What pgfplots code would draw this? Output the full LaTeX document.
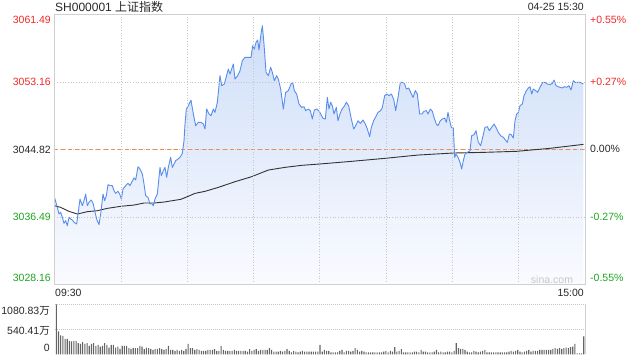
\documentclass[border=0pt]{standalone}
\usepackage{pgfplots}
\usepackage{pgfplotstable}
\pgfplotsset{compat=1.18}
\usepackage{fontspec}
\setmainfont{Liberation Sans}
\newfontfamily\cjk{Noto Sans CJK SC}
\definecolor{upred}{RGB}{240,40,40}
\definecolor{dngreen}{RGB}{30,165,30}
\definecolor{lineblue}{RGB}{88,141,236}
\definecolor{framegray}{RGB}{208,208,208}
\definecolor{gridgray}{RGB}{198,198,198}
\definecolor{refor}{RGB}{236,140,90}
\definecolor{volgray}{RGB}{100,100,100}
\definecolor{filltop}{RGB}{206,222,248}
\definecolor{fillbot}{RGB}{250,251,255}
\definecolor{txt}{RGB}{40,40,40}

\pgfplotstableread{
m p
0 3038.92
1.28 3037.68
2.04 3036.86
2.79 3037.07
3.54 3036.45
4.30 3035.71
5.05 3036.04
5.81 3035.42
6.56 3036.45
7.31 3036.24
8.07 3036.12
8.82 3035.83
10.03 3035.63
10.63 3036.86
11.54 3038.71
12.59 3037.89
13.35 3038.51
14.10 3039.33
14.85 3037.89
15.61 3038.30
16.66 3038.59
17.57 3038.10
18.17 3037.27
19.08 3036.24
20.13 3035.54
20.89 3036.86
21.94 3039.33
22.70 3038.51
23.45 3039.12
24.20 3040.48
25.41 3040.36
26.17 3040.36
26.92 3039.74
27.67 3039.41
28.73 3039.66
29.48 3039.33
30.24 3038.71
30.99 3039.95
32.20 3040.36
33.25 3040.65
34.16 3040.36
34.91 3040.77
35.97 3041.31
36.72 3041.06
37.78 3042.70
38.68 3042.42
39.74 3041.80
40.49 3040.57
41.25 3039.12
42.30 3038.92
43.21 3038.10
43.96 3038.18
44.71 3037.89
45.47 3038.71
46.52 3039.33
47.73 3042.62
48.33 3041.59
49.24 3042.21
49.99 3042.62
50.75 3041.39
51.50 3042.62
52.56 3043.86
53.31 3042.62
54.06 3043.03
54.82 3043.45
55.87 3043.65
56.78 3043.86
57.83 3044.35
58.59 3045.91
59.04 3047.97
59.64 3049.82
60.55 3050.23
61.75 3050.93
62.81 3049.21
63.87 3047.77
65.07 3048.18
66.28 3048.18
67.33 3047.97
68.09 3047.35
68.84 3049.82
69.90 3049.21
70.80 3049.00
71.86 3049.82
72.61 3049.41
73.67 3050.65
74.87 3053.94
75.63 3052.70
76.83 3052.91
77.44 3053.53
78.64 3054.76
79.40 3054.14
80.15 3054.76
80.91 3055.38
81.66 3053.53
82.87 3053.94
83.92 3054.55
84.98 3055.79
86.19 3056.20
87.69 3056.20
88.90 3056.20
89.65 3057.64
90.41 3057.23
91.16 3058.05
91.92 3058.34
92.52 3057.11
93.42 3059.08
94.03 3060.11
94.78 3057.85
95.69 3054.35
96.74 3053.94
97.80 3054.97
98.55 3054.35
99.46 3053.32
100.51 3053.94
101.27 3053.53
102.32 3052.29
103.53 3049.82
104.58 3051.88
105.79 3052.09
106.99 3052.91
107.75 3053.11
108.50 3052.09
109.56 3051.67
110.62 3050.44
111.82 3050.03
112.88 3050.11
113.63 3049.62
114.84 3049.82
115.74 3049.62
116.65 3048.59
117.55 3049.70
118.61 3049.82
119.81 3049.54
120.42 3049.21
121.47 3048.67
122.53 3048.59
123.43 3051.26
124.19 3049.82
124.94 3050.65
125.69 3050.23
126.45 3049.21
127.50 3050.03
128.26 3048.38
129.16 3049.21
130.07 3049.82
130.97 3050.11
132.03 3050.65
133.08 3050.23
134.29 3048.59
135.35 3047.35
136.25 3047.77
137.31 3048.38
138.36 3048.05
139.57 3048.47
140.62 3047.97
141.53 3047.35
142.58 3046.41
143.34 3047.56
144.54 3048.47
145.60 3049.00
146.35 3049.41
147.56 3049.62
148.32 3050.03
149.37 3051.47
150.43 3051.67
151.33 3051.47
152.39 3051.67
153.44 3051.06
154.35 3049.62
155.40 3051.26
156.46 3053.11
157.67 3053.11
158.42 3052.91
159.17 3052.29
160.23 3052.42
161.13 3051.88
162.19 3051.26
163.24 3052.09
164.15 3051.67
165.21 3049.21
166.26 3049.21
167.17 3049.54
168.22 3049.62
168.98 3049.21
170.03 3049.82
170.94 3049.54
171.69 3048.79
172.75 3047.97
173.50 3047.77
174.56 3048.38
175.46 3048.59
176.52 3048.71
177.27 3048.18
178.02 3049.41
178.78 3048.38
179.53 3047.56
180.44 3047.48
181.04 3043.86
181.64 3044.27
182.55 3043.86
183.45 3043.24
184.21 3042.42
184.96 3043.45
185.72 3044.27
186.77 3044.47
187.98 3044.68
188.73 3046.53
189.79 3046.65
190.69 3047.15
191.75 3045.71
192.80 3045.30
193.71 3046.33
194.76 3047.56
195.82 3047.64
196.72 3047.15
197.78 3047.56
198.84 3047.97
199.74 3047.56
200.80 3046.94
201.85 3046.53
203.06 3046.33
204.27 3045.91
204.87 3045.71
205.77 3046.74
206.68 3046.65
207.58 3046.24
208.34 3048.38
209.09 3049.21
209.85 3049.41
210.60 3050.23
211.66 3050.44
212.41 3051.47
213.31 3052.00
214.37 3052.42
215.12 3052.58
215.88 3051.67
216.63 3052.29
217.69 3052.09
218.59 3051.88
219.65 3052.50
220.85 3053.11
221.91 3053.11
222.97 3052.91
224.17 3052.83
225.23 3052.99
225.98 3053.40
226.89 3052.70
227.94 3052.58
228.70 3052.50
229.75 3052.42
230.66 3052.58
231.71 3052.50
232.77 3052.70
233.67 3052.17
234.73 3053.32
235.48 3053.11
236.54 3053.11
237.74 3053.11
239.30 3052.91
}\pricedata

\pgfplotstableread{
m a
0 3037.89
2.79 3037.68
6.56 3037.19
10.33 3036.86
14.85 3037.15
19.38 3037.27
23.90 3037.56
29.93 3037.81
35.97 3037.97
40.49 3038.22
45.02 3038.22
49.54 3038.34
57.08 3038.67
60.10 3039.00
63.56 3039.41
68.09 3039.66
74.12 3040.15
81.66 3040.85
89.20 3041.47
96.74 3042.29
104.28 3042.62
111.82 3042.87
119.81 3043.03
134.29 3043.36
149.37 3043.73
164.45 3044.14
180.29 3044.39
194.01 3044.47
209.09 3044.60
224.17 3044.97
239.30 3045.46
}\avgdata

\pgfplotstableread{
v
1081
497
409
402
336
336
292
278
292
292
241
227
263
227
241
183
227
241
183
205
168
183
241
205
146
205
205
146
168
117
183
183
183
132
117
132
132
132
183
168
110
146
132
117
95
110
110
132
110
95
117
183
95
95
73
95
73
95
73
117
227
132
132
95
110
95
73
73
73
95
95
95
110
73
73
183
95
73
73
73
73
95
73
73
73
73
73
58
110
73
95
110
73
95
95
95
95
132
95
58
58
58
73
58
73
110
73
44
73
58
44
58
73
58
58
58
58
58
58
58
205
58
95
73
73
44
44
44
44
73
95
44
73
73
58
73
132
95
58
73
58
44
44
44
44
44
44
44
44
58
73
44
73
58
154
58
73
110
44
44
44
44
44
58
58
44
95
58
58
44
44
44
58
95
44
58
44
44
58
58
44
73
241
132
117
117
95
58
44
44
73
58
44
58
73
95
44
44
44
44
44
44
44
44
44
44
58
73
58
73
95
58
44
58
73
95
58
73
73
73
95
95
95
95
95
95
117
132
117
132
117
132
146
132
154
168
227
22
22
22
387
}\voldata

\begin{document}
\begin{tikzpicture}
\useasboundingbox (0pt,0pt) rectangle (640pt,360pt);
\begin{axis}[
  at={(54.5pt,75.5pt)}, anchor=south west,
  scale only axis, width=530.5pt, height=270pt,
  xmin=0, xmax=240, ymin=3028.16, ymax=3061.49,
  axis on top,
  axis line style={framegray, line width=0.8pt},
  xtick={30,60,...,210}, xticklabels={},
  ytick={3036.49,3053.16},
  yticklabels={\textcolor{dngreen}{3036.49},\textcolor{upred}{3053.16}},
  extra y ticks={3044.82},
  extra y tick labels={\textcolor{txt}{3044.82}},
  extra y tick style={grid=none},
  major tick length=0pt,
  grid=major,
  grid style={gridgray, dash pattern=on 0.7pt off 2pt, line width=0.6pt},
  yticklabel style={font=\fontsize{10.5}{12}\selectfont, inner sep=0pt, xshift=-3.5pt},
]
\addplot[draw=none, top color=filltop, bottom color=fillbot]
  table[x=m, y=p] {\pricedata}
  -- (axis cs:239.3,3028.16) -- (axis cs:0,3028.16) -- cycle;
\addplot[gridgray, line width=0.6pt, dash pattern=on 0.7pt off 2pt] coordinates {(0,3044.82) (240,3044.82)};
\addplot[refor, line width=0.8pt, dash pattern=on 4pt off 3pt] coordinates {(0,3044.82) (240,3044.82)};
\addplot[black!80, line width=0.9pt] table[x=m, y=a] {\avgdata};
\addplot[lineblue, line width=0.9pt, line join=round] table[x=m, y=p] {\pricedata};
\end{axis}

\begin{axis}[
  at={(54.5pt,5.7pt)}, anchor=south west,
  scale only axis, width=530.5pt, height=49.8pt,
  xmin=-0.82, xmax=240.59, ymin=0, ymax=1080.83,
  axis line style={draw=none},
  xtick=\empty,
  ytick={540.41,1080.83}, yticklabels={},
  major tick length=0pt,
  ymajorgrids,
  grid style={gridgray, dash pattern=on 1pt off 1pt, line width=0.8pt},
  clip=false,
]
\addplot[ybar, bar width=1.1pt, fill=volgray, draw=none] table[x expr=\coordindex, y=v] {\voldata};
\draw[framegray, line width=0.8pt] (rel axis cs:1,0) -- (rel axis cs:1,1);
\end{axis}

% header texts
\node[anchor=west, inner sep=0pt, text=txt, font=\fontsize{12}{14}\selectfont] at (55pt,353pt) {SH000001 {\cjk 上证指数}};
\node[anchor=east, inner sep=0pt, text=txt, font=\fontsize{10.5}{12}\selectfont] at (584pt,353pt) {04-25 15:30};
% end labels left
\node[anchor=east, inner sep=0pt, text=upred, font=\fontsize{10.5}{12}\selectfont] at (51pt,340pt) {3061.49};
\node[anchor=east, inner sep=0pt, text=dngreen, font=\fontsize{10.5}{12}\selectfont] at (51pt,82pt) {3028.16};
% right percent labels
\begin{scope}[every node/.style={anchor=west, inner sep=0pt, font=\fontsize{10.5}{12}\selectfont}]
\node[text=upred] at (590pt,340pt) {+0.55\%};
\node[text=upred] at (590pt,278pt) {+0.27\%};
\node[text=txt] at (590pt,211pt) {0.00\%};
\node[text=dngreen] at (590pt,143pt) {-0.27\%};
\node[text=dngreen] at (590pt,82pt) {-0.55\%};
\end{scope}
% time labels
\node[anchor=west, inner sep=0pt, text=txt, font=\fontsize{10.5}{12}\selectfont] at (55pt,67pt) {09:30};
\node[anchor=east, inner sep=0pt, text=txt, font=\fontsize{10.5}{12}\selectfont] at (584pt,67pt) {15:00};
\node[inner sep=0pt, text=black!22, font=\fontsize{10.5}{12}\selectfont] at (552pt,80.5pt) {sina.com};
% volume labels
\begin{scope}[every node/.style={anchor=east, inner sep=0pt, text=txt, font=\fontsize{10.5}{12}\selectfont}]
\node at (50pt,49pt) {1080.83{\cjk 万}};
\node at (50pt,29pt) {540.41{\cjk 万}};
\node at (50pt,11.7pt) {0};
\end{scope}
\end{tikzpicture}
\end{document}
